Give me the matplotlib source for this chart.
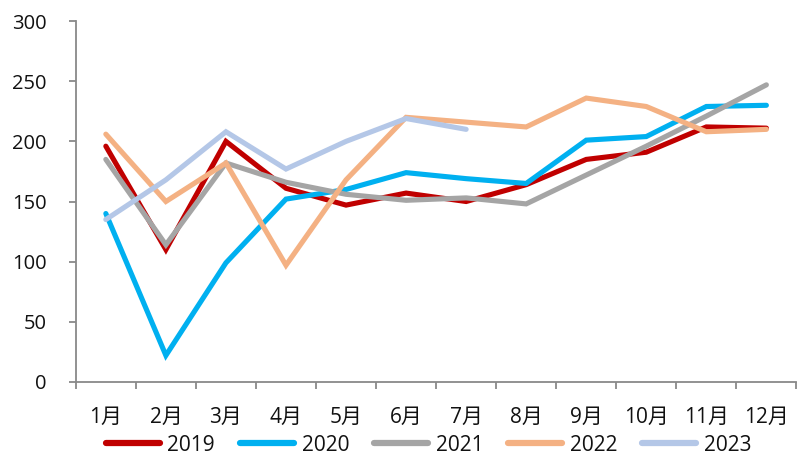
import matplotlib
matplotlib.use("agg")
import matplotlib.pyplot as plt
from matplotlib.ticker import FixedLocator, MultipleLocator

plt.rcParams["font.family"] = ["Open Sans", "Noto Sans CJK SC", "DejaVu Sans"]

months = ["1月", "2月", "3月", "4月", "5月", "6月", "7月", "8月", "9月", "10月", "11月", "12月"]

v2019 = [196, 110, 200, 161, 147, 157, 150, 164, 185, 191, 212, 211]
v2020 = [140, 22, 99, 152, 160, 174, 169, 165, 201, 204, 229, 230]
v2021 = [185, 114, 182, 166, 156, 151, 153, 148, 172, 196, 221, 247]
v2022 = [206, 150, 182, 97, 168, 220, 216, 212, 236, 229, 208, 210]
v2023 = [135, 168, 208, 177, 200, 219, 210]

series = [
    ("2019", v2019, "#C00000"),
    ("2020", v2020, "#00B0F0"),
    ("2021", v2021, "#A5A5A5"),
    ("2022", v2022, "#F4B183"),
    ("2023", v2023, "#B4C7E7"),
]

fig = plt.figure(figsize=(7.98, 4.59), dpi=100)
ax = fig.add_axes([0.095, 0.168, 0.903, 0.786])

x = list(range(1, 13))
for label, vals, color in series:
    ax.plot(x[:len(vals)], vals, color=color, lw=3.7, label=label,
            solid_capstyle="round", solid_joinstyle="miter")

ax.set_xlim(0.5, 12.5)
ax.set_ylim(0, 300)
ax.yaxis.set_major_locator(MultipleLocator(50))
ax.set_xticks(x)
ax.set_xticklabels(months)
# month boundaries carry the x tick marks
ax.xaxis.set_minor_locator(FixedLocator([i + 0.5 for i in range(0, 13)]))

axis_color = "#898989"
for side in ("top", "right"):
    ax.spines[side].set_visible(False)
for side in ("left", "bottom"):
    ax.spines[side].set_color(axis_color)
    ax.spines[side].set_linewidth(1.3)

ax.tick_params(axis="y", direction="out", length=5, width=1.3, color=axis_color,
               labelsize=14.5, labelcolor="#111111", pad=16)
ax.tick_params(axis="x", which="major", length=0, labelsize=15,
               labelcolor="#111111", pad=18)
ax.tick_params(axis="x", which="minor", direction="out", length=5, width=1.3,
               color=axis_color)

leg = fig.legend(loc="center", bbox_to_anchor=(0.537, 0.03), ncol=5,
                 frameon=False, fontsize=15, handlelength=2.6,
                 handletextpad=0.35, columnspacing=1.2, borderpad=0,
                 labelcolor="#111111")
for line in leg.get_lines():
    line.set_linewidth(4.5)

fig.savefig("out.png", dpi=100)
